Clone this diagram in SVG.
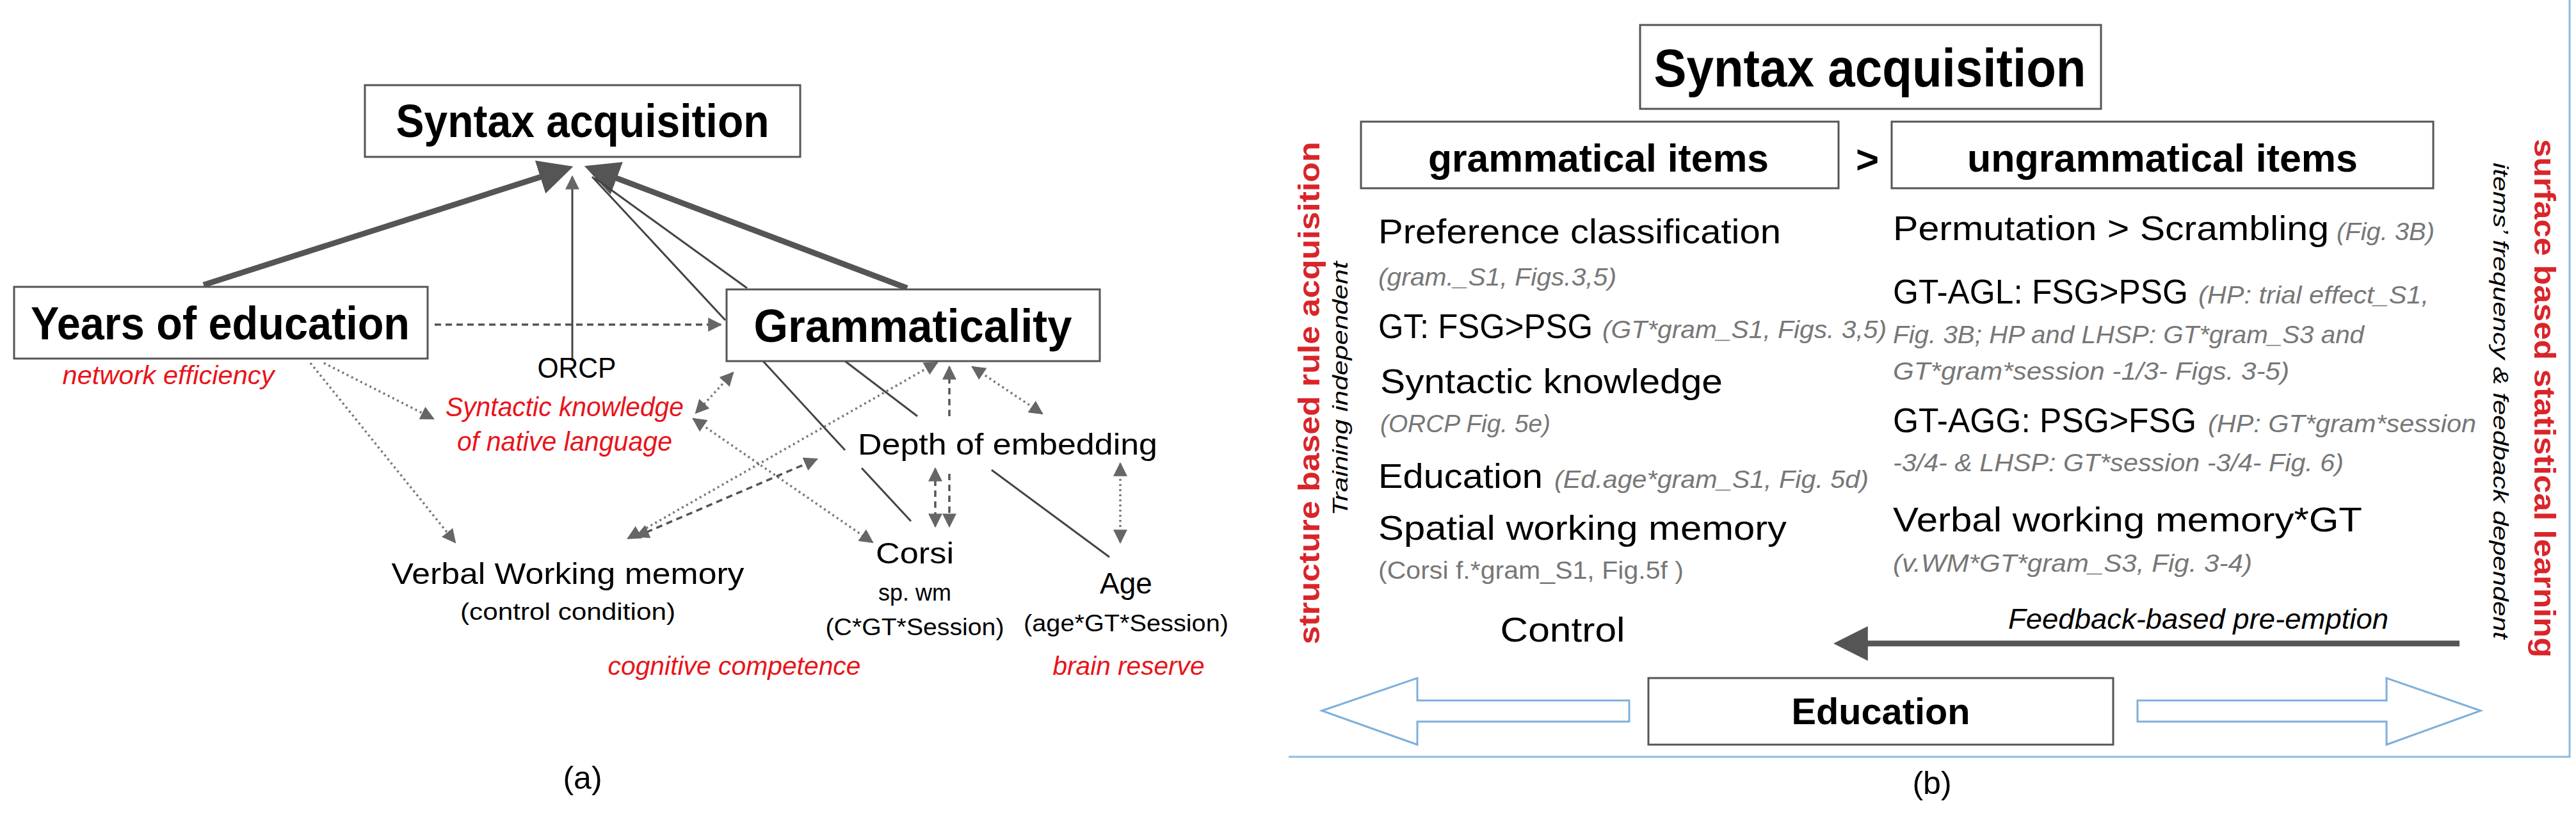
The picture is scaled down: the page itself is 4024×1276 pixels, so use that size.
<svg xmlns="http://www.w3.org/2000/svg" width="4024" height="1276" viewBox="0 0 4024 1276">
<style>
text{font-family:"Liberation Sans",Arial,sans-serif;text-anchor:middle;fill:#000}
.b{font-weight:bold}
.red{fill:#e8141a;font-style:italic}
.g{fill:#777;font-style:italic;text-anchor:start}
.l{text-anchor:start}
.box{fill:#fff;stroke:#555;stroke-width:3}
.thick{stroke:#555;stroke-width:9;fill:none}
.thin{stroke:#444;stroke-width:3;fill:none}
.dot{stroke:#777;stroke-width:3.5;stroke-dasharray:3 5;fill:none}
.dash{stroke:#555;stroke-width:3.5;stroke-dasharray:10 7;fill:none}
</style>
<defs>
<marker id="ah" viewBox="0 0 10 10" refX="9" refY="5" markerWidth="8" markerHeight="8" markerUnits="userSpaceOnUse" orient="auto-start-reverse"><path d="M0,0L10,5L0,10z" fill="#555"/></marker>
<marker id="as" viewBox="0 0 10 10" refX="9" refY="5" markerWidth="22" markerHeight="22" markerUnits="userSpaceOnUse" orient="auto-start-reverse"><path d="M0,0L10,5L0,10z" fill="#666"/></marker>
<marker id="ab" viewBox="0 0 10 10" refX="7" refY="5" markerWidth="6" markerHeight="6" orient="auto"><path d="M0,0L10,5L0,10z" fill="#555"/></marker>
</defs>
<g id="connectors">
<line class="thick" x1="318" y1="445" x2="880" y2="265" marker-end="url(#ab)"/>
<line class="thick" x1="1417" y1="450" x2="928" y2="265" marker-end="url(#ab)"/>
<line class="thin" x1="894" y1="564" x2="894" y2="276" marker-end="url(#as)"/>
<polyline class="thin" points="1423,814 1346,731"/>
<line class="thin" x1="1320" y1="703" x2="1192" y2="564"/>
<line class="thin" x1="1133" y1="500" x2="925" y2="276"/>
<line class="thin" x1="1733" y1="870" x2="1549" y2="734"/>
<line class="thin" x1="1433" y1="650" x2="1320" y2="564"/>
<line class="thin" x1="1167" y1="450" x2="929" y2="278"/>
<line class="dash" x1="679" y1="507" x2="1126" y2="507" marker-end="url(#as)"/>
<line class="dot" x1="506" y1="567" x2="677" y2="654" marker-end="url(#as)"/>
<line class="dot" x1="485" y1="567" x2="711" y2="847" marker-end="url(#as)"/>
<line class="dot" x1="1145" y1="582" x2="1087" y2="645" marker-start="url(#as)" marker-end="url(#as)"/>
<line class="dot" x1="1083" y1="654" x2="1363" y2="847" marker-start="url(#as)" marker-end="url(#as)"/>
<line class="dot" x1="1464" y1="566" x2="981" y2="841" marker-start="url(#as)" marker-end="url(#as)"/>
<line class="dash" x1="994" y1="838" x2="1276" y2="717" marker-start="url(#as)" marker-end="url(#as)"/>
<line class="dash" x1="1483" y1="650" x2="1483" y2="573" marker-end="url(#as)"/>
<line class="dot" x1="1519" y1="573" x2="1628" y2="646" marker-start="url(#as)" marker-end="url(#as)"/>
<line class="dash" x1="1461" y1="732" x2="1461" y2="822" marker-start="url(#as)" marker-end="url(#as)"/>
<line class="dash" x1="1483" y1="740" x2="1483" y2="822" marker-end="url(#as)"/>
<line class="dot" x1="1750" y1="724" x2="1750" y2="847" marker-start="url(#as)" marker-end="url(#as)"/>
<line x1="3842" y1="1005" x2="2880" y2="1005" stroke="#555" stroke-width="9" marker-end="url(#ab)"/>
<polygon points="2065,1110 2214,1059 2214,1094 2545,1094 2545,1127 2214,1127 2214,1163" fill="#fff" stroke="#7fb0dd" stroke-width="3"/>
<polygon points="3875,1110 3728,1059 3728,1094 3339,1094 3339,1127 3728,1127 3728,1163" fill="#fff" stroke="#7fb0dd" stroke-width="3"/>
<polyline points="2013,1182 4014,1182 4014,0" fill="none" stroke="#8bbbe3" stroke-width="3"/>
</g>
<g id="syntax-a"><rect class="box" x="570" y="133" width="680" height="112"/><text class="b" x="910" y="214" font-size="72" textLength="583" lengthAdjust="spacingAndGlyphs">Syntax acquisition</text></g>
<g id="years"><rect class="box" x="22" y="448" width="646" height="112"/><text class="b" x="344" y="530" font-size="72" textLength="592" lengthAdjust="spacingAndGlyphs">Years of education</text><text class="red" x="263" y="600" font-size="40" textLength="331" lengthAdjust="spacingAndGlyphs">network efficiency</text></g>
<g id="gram"><rect class="box" x="1135" y="452" width="583" height="112"/><text class="b" x="1426" y="534" font-size="72" textLength="497" lengthAdjust="spacingAndGlyphs">Grammaticality</text></g>
<g id="orcp"><text x="901" y="590" font-size="44" textLength="123" lengthAdjust="spacingAndGlyphs">ORCP</text><text class="red" x="882" y="650" font-size="42" textLength="372" lengthAdjust="spacingAndGlyphs">Syntactic knowledge</text><text class="red" x="882" y="704" font-size="42" textLength="336" lengthAdjust="spacingAndGlyphs">of native language</text></g>
<g id="depth"><text x="1574" y="710" font-size="46" textLength="468" lengthAdjust="spacingAndGlyphs">Depth of embedding</text></g>
<g id="vwm"><text x="887" y="912" font-size="46" textLength="551" lengthAdjust="spacingAndGlyphs">Verbal Working memory</text><text x="887" y="968" font-size="36" textLength="336" lengthAdjust="spacingAndGlyphs">(control condition)</text></g>
<g id="corsi"><text x="1429" y="880" font-size="46" textLength="122" lengthAdjust="spacingAndGlyphs">Corsi</text><text x="1429" y="938" font-size="36">sp. wm</text><text x="1429" y="992" font-size="36" textLength="279" lengthAdjust="spacingAndGlyphs">(C*GT*Session)</text></g>
<g id="age"><text x="1759" y="927" font-size="46">Age</text><text x="1759" y="986" font-size="36" textLength="320" lengthAdjust="spacingAndGlyphs">(age*GT*Session)</text></g>
<text class="red" x="1147" y="1054" font-size="40" textLength="395" lengthAdjust="spacingAndGlyphs">cognitive competence</text>
<text class="red" x="1763" y="1054" font-size="40" textLength="237" lengthAdjust="spacingAndGlyphs">brain reserve</text>
<text x="910" y="1232" font-size="50">(a)</text>
<g id="syntax-b"><rect class="box" x="2562" y="39" width="720" height="131"/><text class="b" x="2921" y="135" font-size="84" textLength="675" lengthAdjust="spacingAndGlyphs">Syntax acquisition</text></g>
<g id="gram-items"><rect class="box" x="2126" y="190" width="746" height="104"/><text class="b" x="2497" y="268" font-size="62" textLength="532" lengthAdjust="spacingAndGlyphs">grammatical items</text></g>
<text class="b" x="2917" y="270" font-size="62">&gt;</text>
<g id="ungram-items"><rect class="box" x="2955" y="190" width="846" height="104"/><text class="b" x="3378" y="268" font-size="62" textLength="610" lengthAdjust="spacingAndGlyphs">ungrammatical items</text></g>
<text class="b" x="2045" y="614" font-size="46" fill="#d9252a" transform="rotate(-90 2045 614)" dy="16" textLength="785" lengthAdjust="spacingAndGlyphs" style="fill:#d9252a">structure based rule acquisition</text>
<text x="2093" y="607" font-size="34" font-style="italic" transform="rotate(-90 2093 607)" dy="12" textLength="397" lengthAdjust="spacingAndGlyphs">Training independent</text>
<text class="b" x="3975" y="622" font-size="46" transform="rotate(90 3975 622)" dy="16" textLength="810" lengthAdjust="spacingAndGlyphs" style="fill:#d9252a">surface based statistical learning</text>
<text x="3907" y="626" font-size="34" font-style="italic" transform="rotate(90 3907 626)" dy="12" textLength="744" lengthAdjust="spacingAndGlyphs">items’ frequency &amp; feedback dependent</text>
<g font-size="54">
<text class="l" x="2153" y="380" textLength="629" lengthAdjust="spacingAndGlyphs">Preference classification</text>
<text class="g" x="2153" y="446" font-size="38" textLength="372" lengthAdjust="spacingAndGlyphs">(gram._S1, Figs.3,5)</text>
<text class="l" x="2153" y="528" textLength="335" lengthAdjust="spacingAndGlyphs">GT: FSG&gt;PSG</text>
<text class="g" x="2503" y="528" font-size="38" textLength="444" lengthAdjust="spacingAndGlyphs">(GT*gram_S1, Figs. 3,5)</text>
<text class="l" x="2156" y="614" textLength="535" lengthAdjust="spacingAndGlyphs">Syntactic knowledge</text>
<text class="g" x="2156" y="675" font-size="38" textLength="266" lengthAdjust="spacingAndGlyphs">(ORCP Fig. 5e)</text>
<text class="l" x="2153" y="762" textLength="257" lengthAdjust="spacingAndGlyphs">Education</text>
<text class="g" x="2428" y="762" font-size="38" textLength="491" lengthAdjust="spacingAndGlyphs">(Ed.age*gram_S1, Fig. 5d)</text>
<text class="l" x="2153" y="843" textLength="638" lengthAdjust="spacingAndGlyphs">Spatial working memory</text>
<text class="l" x="2153" y="904" font-size="38" fill="#777" style="fill:#777" textLength="477" lengthAdjust="spacingAndGlyphs">(Corsi f.*gram_S1, Fig.5f )</text>
<text x="2441" y="1002" textLength="195" lengthAdjust="spacingAndGlyphs">Control</text>
<text class="l" x="2957" y="375" textLength="681" lengthAdjust="spacingAndGlyphs">Permutation &gt; Scrambling</text>
<text class="g" x="3650" y="375" font-size="38" textLength="153" lengthAdjust="spacingAndGlyphs">(Fig. 3B)</text>
<text class="l" x="2957" y="474" textLength="461" lengthAdjust="spacingAndGlyphs">GT-AGL: FSG&gt;PSG</text>
<text class="g" x="3434" y="474" font-size="38" textLength="360" lengthAdjust="spacingAndGlyphs">(HP: trial effect_S1,</text>
<text class="g" x="2957" y="536" font-size="38" textLength="736" lengthAdjust="spacingAndGlyphs">Fig. 3B; HP and LHSP: GT*gram_S3 and</text>
<text class="g" x="2957" y="593" font-size="38" textLength="619" lengthAdjust="spacingAndGlyphs">GT*gram*session -1/3- Figs. 3-5)</text>
<text class="l" x="2957" y="675" textLength="474" lengthAdjust="spacingAndGlyphs">GT-AGG: PSG&gt;FSG</text>
<text class="g" x="3449" y="675" font-size="38" textLength="419" lengthAdjust="spacingAndGlyphs">(HP: GT*gram*session</text>
<text class="g" x="2957" y="736" font-size="38" textLength="704" lengthAdjust="spacingAndGlyphs">-3/4- &amp; LHSP: GT*session -3/4- Fig. 6)</text>
<text class="l" x="2957" y="830" textLength="733" lengthAdjust="spacingAndGlyphs">Verbal working memory*GT</text>
<text class="g" x="2957" y="893" font-size="38" textLength="561" lengthAdjust="spacingAndGlyphs">(v.WM*GT*gram_S3, Fig. 3-4)</text>
<text x="3434" y="982" font-size="44" font-style="italic" textLength="594" lengthAdjust="spacingAndGlyphs">Feedback-based pre-emption</text>
</g>
<g id="education"><rect class="box" x="2575" y="1059" width="726" height="104"/><text class="b" x="2938" y="1131" font-size="58" textLength="279" lengthAdjust="spacingAndGlyphs">Education</text></g>
<text x="3018" y="1240" font-size="50">(b)</text>
</svg>
